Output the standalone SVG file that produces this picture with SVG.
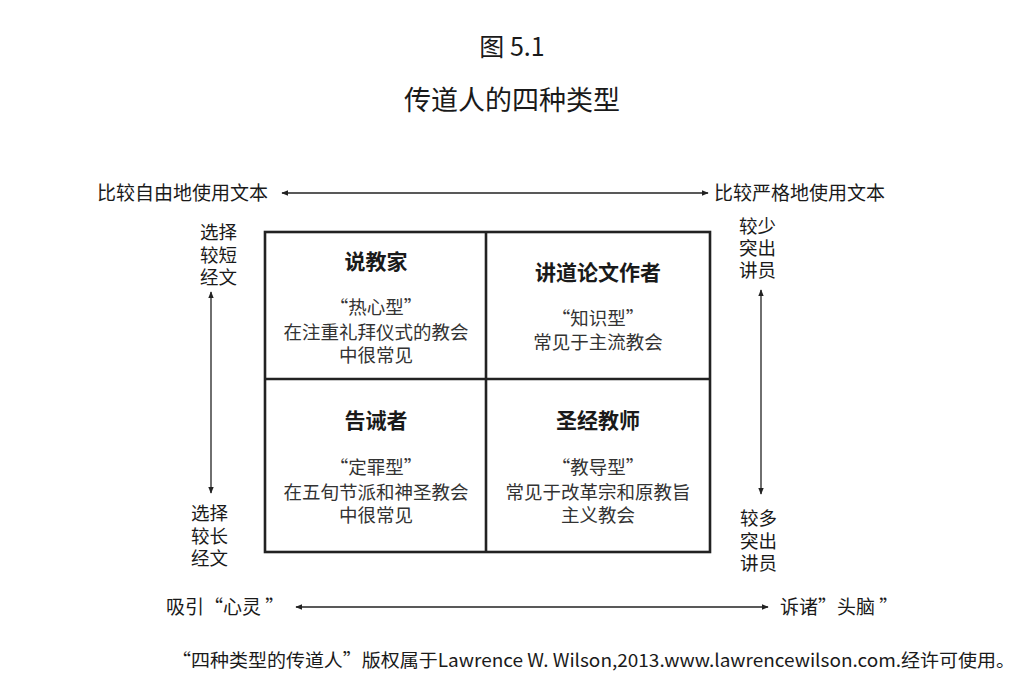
<svg xmlns="http://www.w3.org/2000/svg" width="1030" height="698" viewBox="0 0 1030 698">
<style>
text{font-family:"Microsoft YaHei","Noto Sans CJK SC","Noto Sans",sans-serif;fill:#1a1a1a}
.t{font-size:19px}
.v{font-size:18.5px}
.h{font-size:21px;font-weight:bold;text-anchor:middle}
.b{font-size:18.5px;text-anchor:middle;fill:#333}
.ax{stroke:#222;stroke-width:1.3;fill:none}
.box{stroke:#222;stroke-width:2.6;fill:#fff}
</style>
<defs>
<marker id="ah" viewBox="0 0 10 10" refX="9" refY="5" markerWidth="7" markerHeight="7" orient="auto-start-reverse" markerUnits="userSpaceOnUse">
<path d="M0,1 L10,5 L0,9 Z" fill="#222"/>
</marker>
</defs>
<rect width="1030" height="698" fill="#fff"/>
<g id="title">
<text x="512" y="56" font-size="25" text-anchor="middle">图 5.1</text>
<text x="512" y="110" font-size="27" text-anchor="middle">传道人的四种类型</text>
</g>
<g id="connectors">
<line class="ax" x1="282" y1="193" x2="708" y2="193" marker-start="url(#ah)" marker-end="url(#ah)"/>
<line class="ax" x1="211" y1="292" x2="211" y2="493" marker-start="url(#ah)" marker-end="url(#ah)"/>
<line class="ax" x1="761" y1="290" x2="761" y2="494" marker-start="url(#ah)" marker-end="url(#ah)"/>
<line class="ax" x1="296" y1="607" x2="768" y2="607" marker-start="url(#ah)" marker-end="url(#ah)"/>
</g>
<g id="axis-labels">
<text class="t" x="97" y="200">比较自由地使用文本</text>
<text class="t" x="714" y="200">比较严格地使用文本</text>
<text class="v" x="200" y="239">选择<tspan x="200" dy="22.5">较短</tspan><tspan x="200" dy="22.5">经文</tspan></text>
<text class="v" x="191" y="520">选择<tspan x="191" dy="22.5">较长</tspan><tspan x="191" dy="22.5">经文</tspan></text>
<text class="v" x="739" y="233">较少<tspan x="739" dy="22">突出</tspan><tspan x="739" dy="22">讲员</tspan></text>
<text class="v" x="740" y="525">较多<tspan x="740" dy="22.5">突出</tspan><tspan x="740" dy="22.5">讲员</tspan></text>
<text class="t" x="166" y="614">吸引“心灵 ”</text>
<text class="t" x="780" y="614">诉诸”头脑 ”</text>
</g>
<g id="grid">
<rect class="box" x="265" y="232" width="445" height="320"/>
<line class="box" x1="486" y1="232" x2="486" y2="552"/>
<line class="box" x1="265" y1="379" x2="710" y2="379"/>
</g>
<g id="q-preacher">
<text class="h" x="376" y="269">说教家</text>
<text class="b" x="376" y="314">“热心型”</text>
<text class="b" x="376" y="339">在注重礼拜仪式的教会</text>
<text class="b" x="376" y="362">中很常见</text>
</g>
<g id="q-essayist">
<text class="h" x="598" y="280">讲道论文作者</text>
<text class="b" x="598" y="325">“知识型”</text>
<text class="b" x="598" y="349">常见于主流教会</text>
</g>
<g id="q-exhorter">
<text class="h" x="376" y="428">告诫者</text>
<text class="b" x="376" y="474">“定罪型”</text>
<text class="b" x="376" y="499">在五旬节派和神圣教会</text>
<text class="b" x="376" y="522">中很常见</text>
</g>
<g id="q-teacher">
<text class="h" x="598" y="428">圣经教师</text>
<text class="b" x="598" y="474">“教导型”</text>
<text class="b" x="598" y="499">常见于改革宗和原教旨</text>
<text class="b" x="598" y="522">主义教会</text>
</g>
<g id="footer">
<text x="172" y="667" font-size="18" textLength="843" lengthAdjust="spacingAndGlyphs">“四种类型的传道人”版权属于Lawrence W. Wilson,2013.www.lawrencewilson.com.经许可使用。</text>
</g>
</svg>
